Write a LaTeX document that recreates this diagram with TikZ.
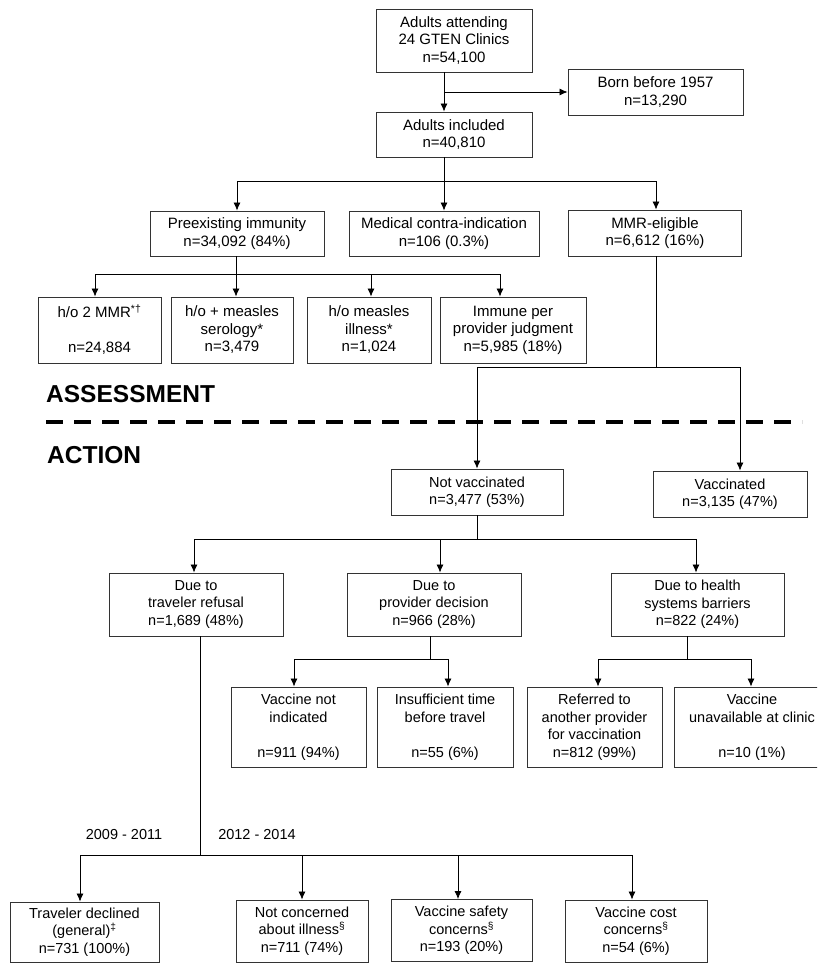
\documentclass[tikz,border=0pt]{standalone}
\usepackage{fontspec}
\setmainfont{Liberation Sans}
\usetikzlibrary{arrows.meta}
\begin{document}
\begin{tikzpicture}[x=1pt,y=-1pt,
  ibox/.style={draw=black!80, line width=0.9pt, align=center, inner sep=0pt, font=\fontsize{15}{17.5}\selectfont},
  sbox/.style={ibox, font=\fontsize{14.5}{17.5}\selectfont},
  conn/.style={line width=0.8pt, draw=black},
  arr/.style={conn, -{Latex[length=8pt,width=7pt]}},
  lbl/.style={font=\fontsize{14.5}{17.5}\selectfont, inner sep=0pt},
  hdr/.style={font=\bfseries\fontsize{24.5}{28}\selectfont, inner sep=0pt, anchor=west}]
\clip (0,0) rectangle (817,963);
\fill[white] (0,0) rectangle (817,963);

% top section
\node[ibox, minimum width=156pt, minimum height=63pt] (a1) at (454,40.5) {Adults attending\\24 GTEN Clinics\\n=54,100};
\node[ibox, minimum width=175pt, minimum height=46pt] (born) at (655.5,92) {Born before 1957\\n=13,290};
\node[ibox, minimum width=156pt, minimum height=45pt] (incl) at (454,134.5) {Adults included\\n=40,810};
\node[ibox, minimum width=174pt, minimum height=45pt] (pre) at (237,233.5) {Preexisting immunity\\n=34,092 (84\%)};
\node[ibox, minimum width=190pt, minimum height=45pt] (med) at (444,233.5) {Medical contra-indication\\n=106 (0.3\%)};
\node[ibox, minimum width=173pt, minimum height=46pt] (mmr) at (655,233) {MMR-eligible\\n=6,612 (16\%)};

\node[ibox, minimum width=123pt, minimum height=66pt] (h1) at (99.5,330) {h/o 2 MMR\textsuperscript{*†}\\[17.5pt]n=24,884};
\node[ibox, minimum width=122pt, minimum height=66pt] (h2) at (232,330) {h/o + measles\\serology*\\n=3,479};
\node[ibox, minimum width=124pt, minimum height=66pt] (h3) at (369,330) {h/o measles\\illness*\\n=1,024};
\node[ibox, minimum width=146pt, minimum height=66pt] (h4) at (513,330) {Immune per\\provider judgment\\n=5,985 (18\%)};

% headers
\node[hdr] (assess) at (46,394) {ASSESSMENT};
\node[hdr] (action) at (47,455) {ACTION};

% action section
\node[sbox, minimum width=172pt, minimum height=46pt] (nv) at (477,492) {Not vaccinated\\n=3,477 (53\%)};
\node[sbox, minimum width=154pt, minimum height=46pt] (vac) at (730,494) {Vaccinated\\n=3,135 (47\%)};

\node[sbox, minimum width=174pt, minimum height=63pt] (tr) at (196,604.5) {Due to\\traveler refusal\\n=1,689 (48\%)};
\node[sbox, minimum width=174pt, minimum height=63pt] (pd) at (434,604.5) {Due to\\provider decision\\n=966 (28\%)};
\node[sbox, minimum width=173pt, minimum height=63pt] (hs) at (697.5,604.5) {Due to health\\systems barriers\\n=822 (24\%)};

\node[sbox, minimum width=135pt, minimum height=80pt] (s1) at (298.5,727) {Vaccine not\\indicated\\[17.5pt]n=911 (94\%)};
\node[sbox, minimum width=136pt, minimum height=80pt] (s2) at (445,727) {Insufficient time\\before travel\\[17.5pt]n=55 (6\%)};
\node[sbox, minimum width=135pt, minimum height=80pt] (s3) at (594.5,727) {Referred to\\another provider\\for vaccination\\n=812 (99\%)};
\node[sbox, minimum width=156pt, minimum height=80pt] (s4) at (752,727) {Vaccine\\unavailable at clinic\\[17.5pt]n=10 (1\%)};

\node[lbl] (yr1) at (124,834) {2009 - 2011};
\node[lbl] (yr2) at (257,834) {2012 - 2014};

\node[sbox, minimum width=149pt, minimum height=60pt] (b1) at (84.5,932) {Traveler declined\\(general)\textsuperscript{‡}\\n=731 (100\%)};
\node[sbox, minimum width=132pt, minimum height=62pt] (b2) at (302,931) {Not concerned\\about illness\textsuperscript{§}\\n=711 (74\%)};
\node[sbox, minimum width=141pt, minimum height=62pt] (b3) at (461.5,930.5) {Vaccine safety\\concerns\textsuperscript{§}\\n=193 (20\%)};
\node[sbox, minimum width=142pt, minimum height=62pt] (b4) at (636,931) {Vaccine cost\\concerns\textsuperscript{§}\\n=54 (6\%)};

% junction levels
\coordinate (y1) at (0,181);
\coordinate (y2) at (0,274);
\coordinate (y3) at (0,367);
\coordinate (y4) at (0,539);
\coordinate (y5) at (0,659);
\coordinate (y6) at (0,855);

% connectors top
\draw[arr] ([xshift=-10pt]a1.south) -- ([xshift=-10pt]incl.north);
\draw[arr] ([xshift=-10pt]a1.south |- born.west) -- (born.west);
\draw[conn] ([xshift=-10pt]incl.south) -- ([xshift=-10pt]incl.south |- y1);
\draw[conn] (pre.north |- y1) -- ([xshift=1pt]mmr.north |- y1);
\draw[arr] (pre.north |- y1) -- (pre.north);
\draw[arr] (med.north |- y1) -- (med.north);
\draw[arr] ([xshift=1pt]mmr.north |- y1) -- ([xshift=1pt]mmr.north);

\draw[conn] ([xshift=-1pt]pre.south) -- ([xshift=-1pt]pre.south |- y2);
\draw[conn] ([xshift=-4.5pt]h1.north |- y2) -- ([xshift=-13pt]h4.north |- y2);
\draw[arr] ([xshift=-4.5pt]h1.north |- y2) -- ([xshift=-4.5pt]h1.north);
\draw[arr] ([xshift=4pt]h2.north |- y2) -- ([xshift=4pt]h2.north);
\draw[arr] ([xshift=2pt]h3.north |- y2) -- ([xshift=2pt]h3.north);
\draw[arr] ([xshift=-13pt]h4.north |- y2) -- ([xshift=-13pt]h4.north);

% MMR to vaccinated / not
\draw[conn] ([xshift=1pt]mmr.south) -- ([xshift=1pt]mmr.south |- y3);
\draw[conn] (nv.north |- y3) -- ([xshift=10pt]vac.north |- y3);
\draw[arr] (nv.north |- y3) -- (nv.north);
\draw[arr] ([xshift=10pt]vac.north |- y3) -- ([xshift=10pt]vac.north);

% dashed separator
\draw[line width=4pt, dash pattern=on 17pt off 11pt] (assess.west |- 0,422) coordinate (dl) -- (802,422);

% not vaccinated to reasons
\draw[conn] (nv.south) -- (nv.south |- y4);
\draw[conn] ([xshift=-2pt]tr.north |- y4) -- ([xshift=-1.5pt]hs.north |- y4);
\draw[arr] ([xshift=-2pt]tr.north |- y4) -- ([xshift=-2pt]tr.north);
\draw[arr] ([xshift=6pt]pd.north |- y4) -- ([xshift=6pt]pd.north);
\draw[arr] ([xshift=-1.5pt]hs.north |- y4) -- ([xshift=-1.5pt]hs.north);

% provider decision
\draw[conn] ([xshift=-4pt]pd.south) -- ([xshift=-4pt]pd.south |- y5);
\draw[conn] ([xshift=-4.5pt]s1.north |- y5) -- ([xshift=3pt]s2.north |- y5);
\draw[arr] ([xshift=-4.5pt]s1.north |- y5) -- ([xshift=-4.5pt]s1.north);
\draw[arr] ([xshift=3pt]s2.north |- y5) -- ([xshift=3pt]s2.north);

% health systems
\draw[conn] ([xshift=-10.5pt]hs.south) -- ([xshift=-10.5pt]hs.south |- y5);
\draw[conn] ([xshift=3.5pt]s3.north |- y5) -- ([xshift=-1pt]s4.north |- y5);
\draw[arr] ([xshift=3.5pt]s3.north |- y5) -- ([xshift=3.5pt]s3.north);
\draw[arr] ([xshift=-1pt]s4.north |- y5) -- ([xshift=-1pt]s4.north);

% traveler refusal
\draw[conn] ([xshift=4pt]tr.south) -- ([xshift=4pt]tr.south |- y6);
\draw[conn] ([xshift=-4.5pt]b1.north |- y6) -- ([xshift=-4pt]b4.north |- y6);
\draw[arr] ([xshift=-4.5pt]b1.north |- y6) -- ([xshift=-4.5pt]b1.north);
\draw[arr] (b2.north |- y6) -- (b2.north);
\draw[arr] ([xshift=-3.5pt]b3.north |- y6) -- ([xshift=-3.5pt]b3.north);
\draw[arr] ([xshift=-4pt]b4.north |- y6) -- ([xshift=-4pt]b4.north);
\end{tikzpicture}
\end{document}
